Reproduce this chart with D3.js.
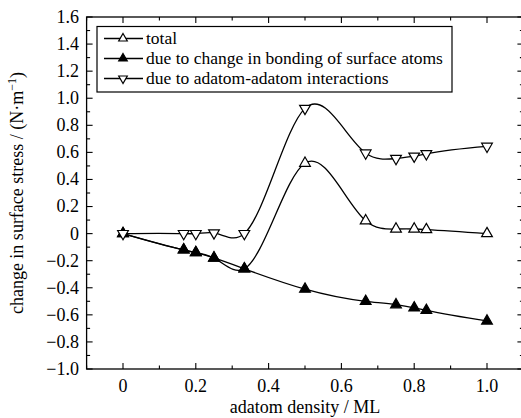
<!DOCTYPE html>
<html>
<head>
<meta charset="utf-8">
<script src="https://cdn.jsdelivr.net/npm/d3@7"></script>
<style>
  body { margin: 0; background: #fff; }
  svg { display: block; }
  text { font-family: "Liberation Serif", "DejaVu Serif", serif; }
</style>
</head>
<body>
<svg id="chart" width="521" height="418"></svg>
<script>
// adatom density (ML)
const density = [0, 1 / 6, 0.2, 0.25, 1 / 3, 0.5, 2 / 3, 0.75, 0.8, 5 / 6, 1.0];
// change in surface stress (N/m)
const total = [0, -0.12, -0.14, -0.18, -0.26, 0.52, 0.095, 0.034, 0.034, 0.03, 0.0];
const bonding = [0, -0.12, -0.14, -0.18, -0.26, -0.41, -0.50, -0.525, -0.548, -0.567, -0.645];
const adatom = [0, 0, 0, 0.005, 0, 0.925, 0.595, 0.555, 0.572, 0.59, 0.645];

const xTicks = [0, 0.2, 0.4, 0.6, 0.8, 1.0];
const xTickLabels = ["0", "0.2", "0.4", "0.6", "0.8", "1.0"];
const yTicks = [1.6, 1.4, 1.2, 1.0, 0.8, 0.6, 0.4, 0.2, 0, -0.2, -0.4, -0.6, -0.8, -1.0];
const yTickLabels = ["1.6", "1.4", "1.2", "1.0", "0.8", "0.6", "0.4", "0.2", "0",
  "\u22120.2", "\u22120.4", "\u22120.6", "\u22120.8", "\u22121.0"];

const seriesNames = ["total", "due to change in bonding of surface atoms", "due to adatom-adatom interactions"];

const FONT = "Liberation Serif, DejaVu Serif, serif";

// natural cubic spline y(x) as a d3 curve (like Origin's "spline" connection)
function curveSplineX(context) {
  let xs, ys;
  return {
    areaStart() {}, areaEnd() {},
    lineStart() { xs = []; ys = []; },
    point(px, py) { xs.push(+px); ys.push(+py); },
    lineEnd() {
      const n = xs.length;
      if (!n) return;
      context.moveTo(xs[0], ys[0]);
      if (n < 3) { if (n === 2) context.lineTo(xs[1], ys[1]); return; }
      const h = d3.range(n - 1).map(i => xs[i + 1] - xs[i]);
      // tridiagonal solve for second derivatives, natural ends
      const a = new Array(n).fill(0), b = new Array(n).fill(1), c = new Array(n).fill(0), r = new Array(n).fill(0);
      for (let i = 1; i < n - 1; i++) {
        a[i] = h[i - 1]; b[i] = 2 * (h[i - 1] + h[i]); c[i] = h[i];
        r[i] = 6 * ((ys[i + 1] - ys[i]) / h[i] - (ys[i] - ys[i - 1]) / h[i - 1]);
      }
      for (let i = 1; i < n; i++) {
        const m = a[i] / b[i - 1];
        b[i] -= m * c[i - 1]; r[i] -= m * r[i - 1];
      }
      const M = new Array(n).fill(0);
      M[n - 1] = r[n - 1] / b[n - 1];
      for (let i = n - 2; i >= 0; i--) M[i] = (r[i] - c[i] * M[i + 1]) / b[i];
      for (let i = 0; i < n - 1; i++) {
        const hi = h[i], s = (ys[i + 1] - ys[i]) / hi;
        const d0 = s - hi * (2 * M[i] + M[i + 1]) / 6;
        const d1 = s + hi * (M[i] + 2 * M[i + 1]) / 6;
        context.bezierCurveTo(xs[i] + hi / 3, ys[i] + d0 * hi / 3,
          xs[i + 1] - hi / 3, ys[i + 1] - d1 * hi / 3, xs[i + 1], ys[i + 1]);
      }
    }
  };
}

const svg = d3.select("#chart").attr("font-family", FONT);
const x = d3.scaleLinear().domain([-0.1, 1.1]).range([86.6, 523.4]);
const y = d3.scaleLinear().domain([-1.0, 1.6]).range([369, 17]);

const plotLeft = x.range()[0], plotRight = x.range()[1];
const plotTop = y.range()[1], plotBottom = y.range()[0];

// frame
svg.append("rect")
  .attr("x", plotLeft).attr("y", plotTop)
  .attr("width", plotRight - plotLeft).attr("height", plotBottom - plotTop)
  .attr("fill", "none").attr("stroke", "#000").attr("stroke-width", 1.3);

// inward ticks on all four sides
const xMinor = d3.range(-0.1, 1.1001, 0.1).map(v => +v.toFixed(2));
const yMinor = d3.range(-1.0, 1.6001, 0.1).map(v => +v.toFixed(2));
const isMajor = (v, step) => Math.abs(Math.round(v / step) * step - v) < 1e-6;

const tickG = svg.append("g").attr("stroke", "#000").attr("stroke-width", 1.1);
xMinor.forEach(v => {
  const len = isMajor(v, 0.2) ? 6 : 3.5;
  tickG.append("line").attr("x1", x(v)).attr("x2", x(v)).attr("y1", plotBottom).attr("y2", plotBottom - len);
  tickG.append("line").attr("x1", x(v)).attr("x2", x(v)).attr("y1", plotTop).attr("y2", plotTop + len);
});
yMinor.forEach(v => {
  const len = isMajor(v, 0.2) ? 6 : 3.5;
  tickG.append("line").attr("x1", plotLeft).attr("x2", plotLeft + len).attr("y1", y(v)).attr("y2", y(v));
  tickG.append("line").attr("x1", plotRight).attr("x2", plotRight - len).attr("y1", y(v)).attr("y2", y(v));
});

// tick labels
svg.append("g").selectAll("text").data(xTicks).join("text")
  .attr("x", d => x(d)).attr("y", 392)
  .attr("text-anchor", "middle").attr("font-size", 18).attr("font-family", FONT)
  .text((d, i) => xTickLabels[i]);

svg.append("g").selectAll("text").data(yTicks).join("text")
  .attr("x", 79).attr("y", d => y(d)).attr("dy", "0.33em")
  .attr("text-anchor", "end").attr("font-size", 18).attr("font-family", FONT)
  .text((d, i) => yTickLabels[i]);

// axis titles
svg.append("text")
  .attr("x", x(0.5)).attr("y", 413)
  .attr("text-anchor", "middle").attr("font-size", 18).attr("font-family", FONT)
  .text("adatom density / ML");

const yt = svg.append("text")
  .attr("transform", `translate(23,${(plotTop + plotBottom) / 2}) rotate(-90)`)
  .attr("text-anchor", "middle").attr("font-size", 18).attr("font-family", FONT);
yt.append("tspan").text("change in surface stress / (N\u00b7m");
yt.append("tspan").attr("dy", -7).attr("font-size", 12).text("\u22121");
yt.append("tspan").attr("dy", 7).text(")");

// lines
const line = d3.line()
  .x((d, i) => x(density[i]))
  .y(d => y(d))
  .curve(curveSplineX);

const plot = svg.append("g");
[total, adatom, bonding].forEach(s => {
  plot.append("path").datum(s)
    .attr("d", line)
    .attr("fill", "none").attr("stroke", "#000").attr("stroke-width", 1.3);
});

// markers
const tri = d3.symbol().type(d3.symbolTriangle).size(50);
const triSmall = d3.symbol().type(d3.symbolTriangle).size(32);

function drawMarkers(values, fill, flip) {
  plot.append("g").selectAll("path").data(values).join("path")
    .attr("d", tri())
    .attr("transform", (d, i) => `translate(${x(density[i])},${y(d)})` + (flip ? " rotate(180)" : ""))
    .attr("fill", fill).attr("stroke", "#000").attr("stroke-width", 1.2);
}
drawMarkers(total, "#fff", false);
drawMarkers(bonding, "#000", false);
drawMarkers(adatom, "#fff", true);

// legend
const legend = svg.append("g");
legend.append("rect")
  .attr("x", 97).attr("y", 26.5).attr("width", 355).attr("height", 65.5)
  .attr("fill", "#fff").attr("stroke", "#000").attr("stroke-width", 1.2);

const legendStyles = [
  { fill: "#fff", flip: false },
  { fill: "#000", flip: false },
  { fill: "#fff", flip: true }
];
seriesNames.forEach((name, i) => {
  const ly = 38.5 + i * 20;
  legend.append("line")
    .attr("x1", 104).attr("x2", 143).attr("y1", ly).attr("y2", ly)
    .attr("stroke", "#000").attr("stroke-width", 1.3);
  legend.append("path")
    .attr("d", triSmall())
    .attr("transform", `translate(123,${ly})` + (legendStyles[i].flip ? " rotate(180)" : ""))
    .attr("fill", legendStyles[i].fill).attr("stroke", "#000").attr("stroke-width", 1.2);
  legend.append("text")
    .attr("x", 146).attr("y", ly).attr("dy", "0.33em")
    .attr("font-size", 17.5).attr("font-family", FONT)
    .text(name);
});
</script>
</body>
</html>
